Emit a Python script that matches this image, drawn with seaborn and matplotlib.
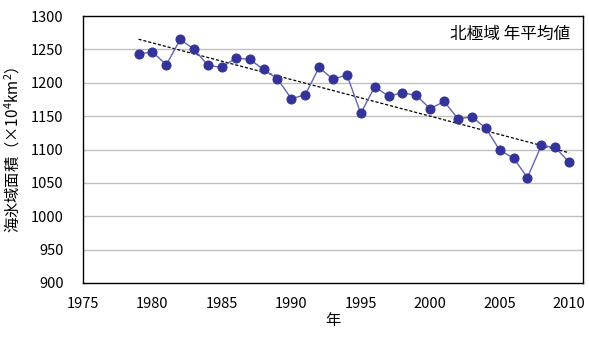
import matplotlib
matplotlib.use("Agg")
import matplotlib.pyplot as plt
import seaborn as sns
import numpy as np
import pandas as pd

years = list(range(1979, 2011))
area = [1243, 1246, 1227, 1265, 1250, 1226, 1223, 1237, 1235, 1220,
        1206, 1176, 1182, 1223, 1205, 1212, 1154, 1194, 1180, 1185,
        1181, 1161, 1172, 1146, 1149, 1132, 1099, 1087, 1058, 1106,
        1103, 1081]
xticks = [1975, 1980, 1985, 1990, 1995, 2000, 2005, 2010]
yticks = list(range(900, 1301, 50))

sns.set_theme(style="white")
plt.rcParams['font.family'] = ['Noto Sans CJK JP', 'DejaVu Sans']
plt.rcParams['mathtext.fontset'] = 'custom'
plt.rcParams['mathtext.rm'] = 'Noto Sans CJK JP'
plt.rcParams['mathtext.it'] = 'Noto Sans CJK JP'

df = pd.DataFrame({"year": years, "area": area})

fig = plt.figure(figsize=(5.89, 3.37), dpi=100)
ax = fig.add_axes([83/589, 1-283/337, 500/589, 267/337])

for yv in yticks[1:-1]:
    ax.axhline(yv, color="#c0c0c0", lw=1, zorder=0)

sns.regplot(data=df, x="year", y="area", scatter=False, ci=None, ax=ax,
            line_kws=dict(color="black", lw=0.9, ls=(0, (2.5, 1.5))))
sns.lineplot(data=df, x="year", y="area", ax=ax, color="#6464b8", lw=1,
             marker="o", markersize=6.5, markerfacecolor="#333399",
             markeredgecolor="#333399")

ax.set_xlim(1975, 2011)
ax.set_ylim(900, 1300)
ax.set_xticks(xticks)
ax.set_yticks(yticks)
ax.tick_params(axis="both", direction="in", length=4, width=1, color="black",
               labelsize=10.5, labelcolor="black")
ax.tick_params(axis="x", pad=10)
ax.tick_params(axis="y", pad=14)
for s in ax.spines.values():
    s.set_color("black")
    s.set_linewidth(1)
ax.set_xlabel("年", fontsize=11, labelpad=1, color="black")
ax.set_ylabel("海氷域面積（×10$^\\mathrm{4}$km$^\\mathrm{2}$）", fontsize=11,
              labelpad=6, color="black")
ax.text(0.975, 0.93, "北極域 年平均値", transform=ax.transAxes, ha="right",
        va="center", fontsize=12, color="black")

fig.savefig("out.png", dpi=100)
